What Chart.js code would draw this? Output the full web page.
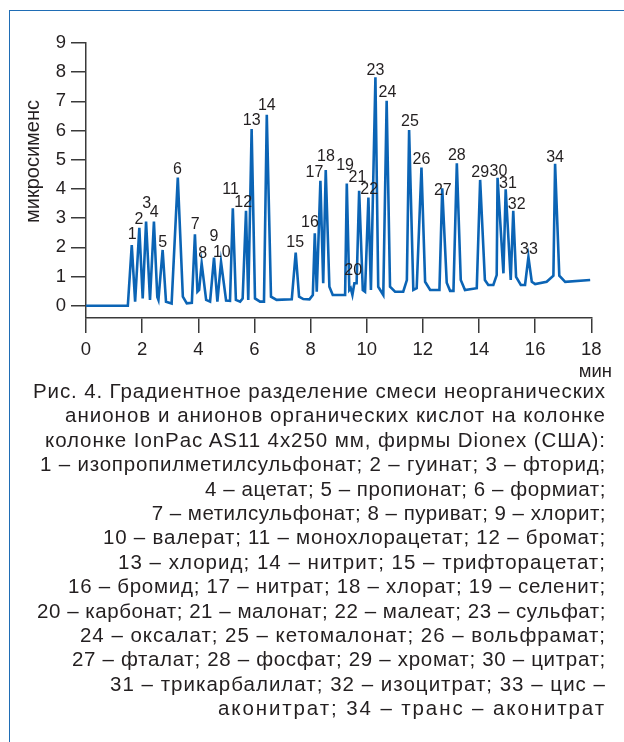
<!DOCTYPE html>
<html><head><meta charset="utf-8">
<script src="https://cdn.jsdelivr.net/npm/chart.js@4"></script>
<style>
html,body{margin:0;padding:0;background:#fff;}
body{width:624px;height:742px;position:relative;overflow:hidden;font-family:"Liberation Sans",Arial,sans-serif;color:#231f20;}
#frameTop{position:absolute;left:9px;top:10px;width:615px;height:0;border-top:1.5px solid #1f6db5;}
#frameLeft{position:absolute;left:9px;top:10px;width:0;height:732px;border-left:1.5px solid #1f6db5;}
#wrap{position:absolute;left:0;top:0;width:624px;height:380px;}
#caption{position:absolute;left:0;top:379px;width:606px;font-size:20.5px;line-height:24.4px;letter-spacing:0.5px;}
#caption div{text-align:right;white-space:pre;}
</style></head>
<body>
<div id="frameTop"></div><div id="frameLeft"></div>
<div id="wrap"><canvas id="c" width="624" height="380"></canvas></div>
<div id="caption"></div>
<script>
const times = [0,1.49,1.63,1.75,1.90,2.02,2.14,2.28,2.42,2.54,2.58,2.73,2.85,3.05,3.27,3.45,3.59,3.77,3.88,3.97,4.03,4.12,4.28,4.42,4.56,4.68,4.81,4.99,5.13,5.23,5.34,5.49,5.58,5.70,5.78,5.90,6.02,6.20,6.34,6.44,6.59,6.79,7.33,7.47,7.59,7.74,7.96,8.08,8.15,8.22,8.35,8.45,8.54,8.67,8.79,9.23,9.29,9.38,9.43,9.49,9.56,9.64,9.73,9.86,9.94,10.06,10.15,10.31,10.41,10.59,10.71,10.83,11.01,11.30,11.43,11.51,11.66,11.78,11.95,12.08,12.26,12.59,12.69,12.85,12.97,13.09,13.21,13.35,13.50,13.92,14.04,14.21,14.33,14.51,14.63,14.66,14.87,14.95,15.13,15.22,15.32,15.49,15.64,15.76,15.88,16.00,16.41,16.65,16.71,16.86,17.07,17.96];
const signal = [0,0,2.08,0.14,2.67,0.25,2.88,0.20,2.88,0.30,0.20,1.91,0.14,0.08,4.39,0.31,0.08,0.10,2.45,0.48,0.54,1.45,0.20,0.14,1.65,0.14,1.50,0.18,0.17,3.34,0.20,0.14,0.25,3.25,0.20,6.05,0.25,0.14,0.14,6.54,0.31,0.20,0.22,1.82,0.31,0.23,0.22,0.37,2.48,0.48,4.28,0.77,4.65,0.65,0.37,0.37,4.19,0.54,0.60,0.37,0.77,0.77,3.94,0.54,0.48,3.71,0.54,7.83,0.65,0.37,7.02,0.65,0.48,0.48,0.88,6.02,0.54,0.60,4.73,0.82,0.54,0.54,4.02,0.79,0.51,0.51,4.88,0.88,0.54,0.60,4.31,0.88,0.71,0.71,1.05,4.38,1.11,3.99,0.88,3.25,0.99,0.71,0.71,1.67,0.82,0.74,0.82,1.03,4.86,1.03,0.82,0.88];
const peakNumbers = ["1","2","3","4","5","6","7","8","9","10","11","12","13","14","15","16","17","18","19","20","21","22","23","24","25","26","27","28","29","30","31","32","33","34"];
const peakLabelTimes = [1.65,1.89,2.16,2.43,2.73,3.26,3.89,4.16,4.56,4.84,5.15,5.60,5.90,6.44,7.45,7.98,8.14,8.55,9.23,9.52,9.67,10.09,10.31,10.74,11.54,11.95,12.71,13.21,14.04,14.69,15.03,15.34,15.78,16.71];
const peakLabelValues = [2.42,2.94,3.49,3.19,2.16,4.66,2.78,1.80,2.38,1.83,3.99,3.52,6.34,6.84,2.16,2.84,4.56,5.12,4.79,1.20,4.38,3.99,8.07,7.30,6.30,4.99,3.96,5.13,4.56,4.61,4.19,3.45,1.94,5.08];
const xTicks = [0,2,4,6,8,10,12,14,16,18];
const yTicks = [0,1,2,3,4,5,6,7,8,9];
const yTitle = "микросименс";
const xUnit = "мин";
const captionLines = [
 "Рис. 4. Градиентное разделение смеси неорганических",
 "анионов и анионов органических кислот на колонке",
 "колонке IonPac AS11 4x250 мм, фирмы Dionex (США):",
 "1 – изопропилметилсульфонат; 2 – гуинат; 3 – фторид;",
 "4 – ацетат; 5 – пропионат; 6 – формиат;",
 "7 – метилсульфонат; 8 – пуриват; 9 – хлорит;",
 "10 – валерат; 11 – монохлорацетат; 12 – бромат;",
 "13 – хлорид; 14 – нитрит; 15 – трифторацетат;",
 "16 – бромид; 17 – нитрат; 18 – хлорат; 19 – селенит;",
 "20 – карбонат; 21 – малонат; 22 – малеат; 23 – сульфат;",
 "24 – оксалат; 25 – кетомалонат; 26 – вольфрамат;",
 "27 – фталат; 28 – фосфат; 29 – хромат; 30 – цитрат;",
 "31 – трикарбалилат; 32 – изоцитрат; 33 – цис –",
 "аконитрат; 34 – транс – аконитрат"
];
/* layout only: left edge where each caption line starts in the printed figure */
const captionLineStarts = [33,65,45,40,205,154,103,118,68,37,80,72,110,218];

const cap = document.getElementById('caption');
captionLines.forEach((txt,i)=>{
  const d = document.createElement('div');
  const s = document.createElement('span');
  s.textContent = txt;
  d.appendChild(s);
  cap.appendChild(d);
  const natural = s.getBoundingClientRect().width;
  const target = 606 - captionLineStarts[i];
  const extra = target - natural;
  if (extra > 0) s.style.letterSpacing = (0.5 + extra/txt.length).toFixed(3) + 'px';
});

const FONT = '"Liberation Sans", Arial, sans-serif';
const TXT = '#231f20';
const AX = '#3a3a3a';

const annot = {
  id:'annot',
  afterDraw(chart){
    const {ctx, scales:{x, y}, chartArea} = chart;
    ctx.save();
    ctx.fillStyle = TXT;
    ctx.font = '16px ' + FONT;
    ctx.textAlign = 'center';
    ctx.textBaseline = 'middle';
    peakNumbers.forEach((n,i)=>{
      ctx.fillText(n, x.getPixelForValue(peakLabelTimes[i]), y.getPixelForValue(peakLabelValues[i]));
    });
    ctx.font = '18.5px ' + FONT;
    ctx.fillText(xUnit, x.getPixelForValue(18) + 4, chartArea.bottom + 54);
    ctx.translate(38.5, y.getPixelForValue(4.94));
    ctx.rotate(-Math.PI/2);
    ctx.textBaseline = 'alphabetic';
    ctx.font = '20px ' + FONT;
    ctx.fillText(yTitle, 0, 0);
    ctx.restore();
  }
};

new Chart(document.getElementById('c'), {
  type:'line',
  data:{datasets:[{
    data: times.map((t,i)=>({x:t, y:signal[i]})),
    borderColor:'#0b64b5', borderWidth:2.6, pointRadius:0, tension:0, fill:false
  }]},
  options:{
    responsive:false, animation:false, events:[],
    layout:{padding:{top:43,right:32.7,left:0,bottom:0}},
    plugins:{legend:{display:false},tooltip:{enabled:false},title:{display:false}},
    scales:{
      x:{type:'linear',min:0,max:18,
        afterBuildTicks:a=>{a.ticks = xTicks.map(v=>({value:v}));},
        afterFit:s=>{s.height = 62;},
        grid:{drawOnChartArea:false,drawTicks:true,tickLength:15,color:AX,lineWidth:1.5},
        border:{display:true,color:AX,width:1.5},
        ticks:{font:{size:18.5,family:FONT},color:TXT,padding:6,maxRotation:0,autoSkip:false}
      },
      y:{type:'linear',min:-0.42,max:9,
        afterBuildTicks:a=>{a.ticks = yTicks.map(v=>({value:v}));},
        afterFit:s=>{s.width = 86;},
        grid:{drawOnChartArea:false,drawTicks:true,tickLength:15,color:AX,lineWidth:1.5},
        border:{display:true,color:AX,width:1.5},
        ticks:{font:{size:18.5,family:FONT},color:TXT,padding:5,autoSkip:false}
      }
    }
  },
  plugins:[annot]
});
</script>
</body></html>
